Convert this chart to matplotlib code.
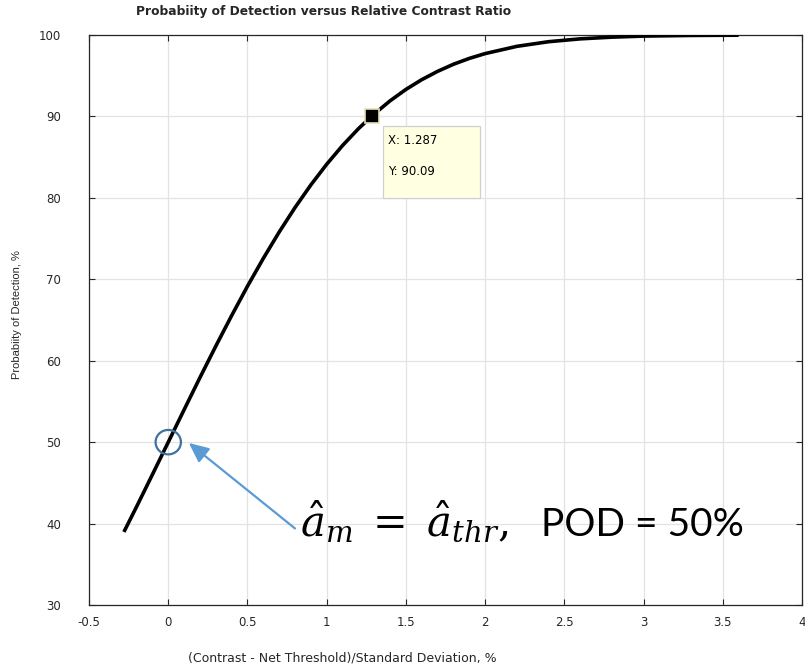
import matplotlib
matplotlib.use("Agg")
import matplotlib.pyplot as plt
from matplotlib.patches import Rectangle, Ellipse

# values
x_vals = [-0.28, -0.2, -0.1, 0.0, 0.1, 0.2, 0.3, 0.4, 0.5, 0.6, 0.7, 0.8, 0.9,
          1.0, 1.1, 1.2, 1.287, 1.4, 1.5, 1.6, 1.7, 1.8, 1.9, 2.0, 2.2, 2.4,
          2.6, 2.8, 3.0, 3.3, 3.6]
pod_vals = [38.97, 42.07, 46.02, 50.00, 53.98, 57.93, 61.79, 65.54, 69.15,
            72.57, 75.80, 78.81, 81.59, 84.13, 86.43, 88.49, 90.09, 91.92,
            93.32, 94.52, 95.54, 96.41, 97.13, 97.72, 98.61, 99.18, 99.53,
            99.74, 99.87, 99.95, 99.98]

tip_x, tip_y = 1.287, 90.09
x_ticks = [-0.5, 0, 0.5, 1, 1.5, 2, 2.5, 3, 3.5, 4]
x_tick_labels = ["-0.5", "0", "0.5", "1", "1.5", "2", "2.5", "3", "3.5", "4"]
y_ticks = [30, 40, 50, 60, 70, 80, 90, 100]

plt.rcParams["font.family"] = ["DejaVu Sans"]
plt.rcParams["mathtext.fontset"] = "dejavuserif"

fig = plt.figure(figsize=(8.05, 6.66), dpi=100)
ax = fig.add_axes([0.1106, 0.0916, 0.8857, 0.8558])

ax.plot(x_vals, pod_vals, color="black", lw=2.6, solid_capstyle="butt", zorder=3)

ax.set_xlim(-0.5, 4)
ax.set_ylim(30, 100)
ax.set_xticks(x_ticks)
ax.set_xticklabels(x_tick_labels)
ax.set_yticks(y_ticks)
ax.grid(True, color="#e3e3e3", lw=0.9)
ax.set_axisbelow(True)
ax.tick_params(direction="in", length=4, width=0.8, colors="#262626",
               labelsize=8.5, top=True, right=True)
ax.tick_params(axis="y", pad=20)
ax.tick_params(axis="x", pad=8)
for s in ax.spines.values():
    s.set_color("#262626")
    s.set_linewidth(0.9)

# data tip
ax.plot([tip_x], [tip_y], marker="s", ms=10, color="black",
        markeredgecolor="#e6e0b0", markeredgewidth=1.2, zorder=5)
ax.add_patch(Rectangle((1.356, 80.02), 0.612, 8.82, facecolor="#ffffe1",
                       edgecolor="#d0d0d0", lw=0.9, zorder=4))
ax.text(1.39, 87.0, "X: 1.287", fontsize=8.5, va="center", zorder=6)
ax.text(1.39, 83.3, "Y: 90.09", fontsize=8.5, va="center", zorder=6)

# POD = 50% marker and arrow
ax.add_patch(Ellipse((0, 50), 0.16, 3.0, fill=False, edgecolor="#41719c",
                     lw=1.6, zorder=6))
ax.annotate("", xy=(0.13, 49.9), xytext=(0.8, 39.4),
            arrowprops=dict(arrowstyle="-|>,head_length=1.2,head_width=0.55",
                            color="#5b9bd5", lw=1.6, shrinkA=0, shrinkB=0),
            zorder=6)
ax.text(0.832, 38.46, r"$\hat{a}_m\;=\;\hat{a}_{thr},$",
        fontsize=30, va="baseline", zorder=6)
ax.text(3.63, 38.46, "POD = 50%", fontsize=28, family=["Lato", "DejaVu Sans"],
        ha="right", va="baseline", zorder=6)

fig.text(0.402, 0.982, "Probabiity of Detection versus Relative Contrast Ratio",
         ha="center", va="center", fontsize=8.8, fontweight="bold", color="#262626")
fig.text(0.425, 0.012, "(Contrast - Net Threshold)/Standard Deviation, %",
         ha="center", va="center", fontsize=9, color="#262626")
fig.text(0.021, 0.528, "Probabiity of Detection, %", rotation=90,
         ha="center", va="center", fontsize=8, color="#262626",
         family=["Liberation Sans", "DejaVu Sans"])

fig.savefig("out.png", dpi=100)
